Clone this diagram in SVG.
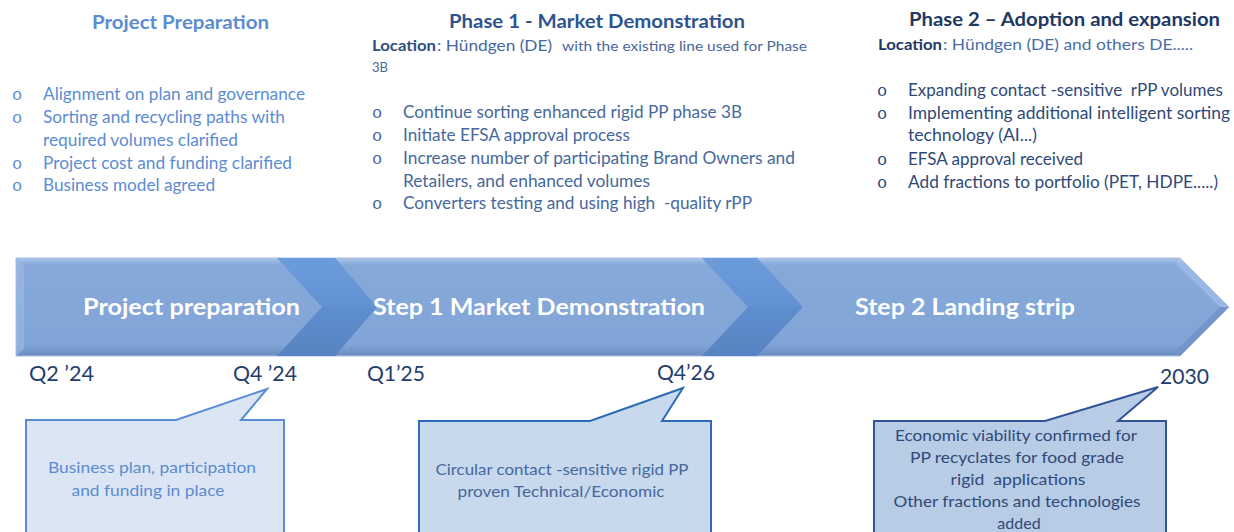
<svg xmlns="http://www.w3.org/2000/svg" width="1234" height="532" viewBox="0 0 1234 532">
  <style>
    text { font-family: Lato, "Open Sans", "Liberation Sans", sans-serif; white-space: pre; }
    .h { font-weight: bold; font-size: 19.5px; }
    .li { font-size: 16.5px; }
    .bul { font-family: "Liberation Mono", monospace; font-size: 17px; }
    .band { font-weight: bold; font-size: 22px; fill: #ffffff; }
    .date { font-size: 21px; fill: #1F3D6E; }
    .call { font-size: 16px; text-anchor: middle; }
    .blueL { fill: #5B8CD3; }
    .blueM { fill: #46689C; }
    .blueD { fill: #2F4A78; }
  </style>
  <defs>
    <linearGradient id="bandGrad" x1="0" y1="0" x2="0" y2="1">
      <stop offset="0" stop-color="#A9C4EA"/>
      <stop offset="0.07" stop-color="#86A9DA"/>
      <stop offset="0.88" stop-color="#82A5D7"/>
      <stop offset="1" stop-color="#6A8CC1"/>
    </linearGradient>
    <linearGradient id="chevGrad" x1="0" y1="0" x2="0" y2="1">
      <stop offset="0" stop-color="#6A9ADA"/>
      <stop offset="0.5" stop-color="#5E8ECF"/>
      <stop offset="1" stop-color="#5883C1"/>
    </linearGradient>
  </defs>

  <!-- phase headings and bullet lists -->
  <g id="prep-notes">
    <text class="h blueL" x="92" y="29" textLength="177" lengthAdjust="spacingAndGlyphs">Project Preparation</text>
    <g class="blueL">
      <text class="bul" x="12" y="100">o</text>
      <text class="li" x="43" y="100" textLength="262" lengthAdjust="spacingAndGlyphs">Alignment on plan and governance</text>
      <text class="bul" x="12" y="123">o</text>
      <text class="li" x="43" y="123" textLength="242" lengthAdjust="spacingAndGlyphs">Sorting and recycling paths with</text>
      <text class="li" x="43" y="146" textLength="195" lengthAdjust="spacingAndGlyphs">required volumes clarified</text>
      <text class="bul" x="12" y="169">o</text>
      <text class="li" x="43" y="169" textLength="249" lengthAdjust="spacingAndGlyphs">Project cost and funding clarified</text>
      <text class="bul" x="12" y="191">o</text>
      <text class="li" x="43" y="191" textLength="172" lengthAdjust="spacingAndGlyphs">Business model agreed</text>
    </g>
  </g>

  <g id="phase1-notes">
    <text class="h" x="449" y="28" fill="#2E5490" textLength="296" lengthAdjust="spacingAndGlyphs">Phase 1 - Market Demonstration</text>
    <text x="372" y="51" font-size="14.5" font-weight="bold" fill="#2E4F82" textLength="64" lengthAdjust="spacingAndGlyphs">Location</text>
    <text class="blueM" x="437" y="51" font-size="15" textLength="115" lengthAdjust="spacingAndGlyphs">: Hündgen (DE)</text>
    <text class="blueM" x="562" y="51" font-size="13" textLength="245" lengthAdjust="spacingAndGlyphs">with the existing line used for Phase</text>
    <text class="blueM" x="372" y="72" font-size="13">3B</text>
    <g class="blueM">
      <text class="bul" x="372" y="118">o</text>
      <text class="li" x="403" y="118" textLength="339" lengthAdjust="spacingAndGlyphs">Continue sorting enhanced rigid PP phase 3B</text>
      <text class="bul" x="372" y="141">o</text>
      <text class="li" x="403" y="141" textLength="227" lengthAdjust="spacingAndGlyphs">Initiate EFSA approval process</text>
      <text class="bul" x="372" y="164">o</text>
      <text class="li" x="403" y="164" textLength="392" lengthAdjust="spacingAndGlyphs">Increase number of participating Brand Owners and</text>
      <text class="li" x="403" y="187" textLength="247" lengthAdjust="spacingAndGlyphs">Retailers, and enhanced volumes</text>
      <text class="bul" x="372" y="209">o</text>
      <text class="li" x="403" y="209" textLength="349" lengthAdjust="spacingAndGlyphs">Converters testing and using high  -quality rPP</text>
    </g>
  </g>

  <g id="phase2-notes">
    <text class="h" x="909" y="26" fill="#1F3864" textLength="311" lengthAdjust="spacingAndGlyphs">Phase 2 – Adoption and expansion</text>
    <text x="878" y="50" font-size="14.5" font-weight="bold" fill="#1F3864" textLength="64" lengthAdjust="spacingAndGlyphs">Location</text>
    <text x="943" y="50" font-size="15" fill="#4A6FA5" textLength="250" lengthAdjust="spacingAndGlyphs">: Hündgen (DE) and others DE.....</text>
    <g class="blueD">
      <text class="bul" x="877" y="96">o</text>
      <text class="li" x="908" y="96" textLength="315" lengthAdjust="spacingAndGlyphs">Expanding contact -sensitive  rPP volumes</text>
      <text class="bul" x="877" y="119">o</text>
      <text class="li" x="908" y="119" textLength="322" lengthAdjust="spacingAndGlyphs">Implementing additional intelligent sorting</text>
      <text class="li" x="908" y="141" textLength="129" lengthAdjust="spacingAndGlyphs">technology (AI...)</text>
      <text class="bul" x="877" y="165">o</text>
      <text class="li" x="908" y="165" textLength="175" lengthAdjust="spacingAndGlyphs">EFSA approval received</text>
      <text class="bul" x="877" y="188">o</text>
      <text class="li" x="908" y="188" textLength="310" lengthAdjust="spacingAndGlyphs">Add fractions to portfolio (PET, HDPE.....)</text>
    </g>
  </g>

  <!-- timeline band with chevron joints -->
  <g id="timeline">
    <path d="M16,258 L1180,258 L1229,307 L1180,356 L16,356 Z" fill="url(#bandGrad)" stroke="#A9C0E3" stroke-width="1"/>
    <path d="M16,258 L24,265 L24,349 L16,356 Z" fill="#9AB8E3" opacity="0.7"/>
    <path d="M1180,258 L1229,307 L1220,307 L1176,264 Z" fill="#A7C3EC" opacity="0.6"/>
    <path d="M1229,307 L1180,356 L1176,350 L1220,307 Z" fill="#6F90C6" opacity="0.7"/>
  </g>
  <g id="chevron-1">
    <path d="M277,258 L335,258 L377,307 L335,356 L277,356 L322,307 Z" fill="url(#chevGrad)"/>
    <path d="M277,258 L335,258 L377,307 L322,307 Z" fill="#7AA6E0" opacity="0.2"/>
  </g>
  <g id="chevron-2">
    <path d="M702,258 L757,258 L803,307 L757,356 L702,356 L748,307 Z" fill="url(#chevGrad)"/>
    <path d="M702,258 L757,258 L803,307 L748,307 Z" fill="#7AA6E0" opacity="0.2"/>
  </g>
  <g id="band-labels">
    <text class="band" x="83" y="315" textLength="217" lengthAdjust="spacingAndGlyphs">Project preparation</text>
    <text class="band" x="373" y="315" textLength="332" lengthAdjust="spacingAndGlyphs">Step 1 Market Demonstration</text>
    <text class="band" x="855" y="315" textLength="220" lengthAdjust="spacingAndGlyphs">Step 2 Landing strip</text>
  </g>

  <!-- milestone dates -->
  <g id="dates">
    <text class="date" x="29" y="381" textLength="65" lengthAdjust="spacingAndGlyphs">Q2 ’24</text>
    <text class="date" x="233" y="381" textLength="64" lengthAdjust="spacingAndGlyphs">Q4 ’24</text>
    <text class="date" x="367" y="381" textLength="58" lengthAdjust="spacingAndGlyphs">Q1’25</text>
    <text class="date" x="657" y="380" textLength="58" lengthAdjust="spacingAndGlyphs">Q4’26</text>
    <text class="date" x="1160" y="384" textLength="49" lengthAdjust="spacingAndGlyphs">2030</text>
  </g>

  <!-- callouts -->
  <g id="callout-prep">
    <path d="M26,420 L176,420 L267,389 L241,420 L284,420 L284,540 L26,540 Z" fill="#DCE5F3" stroke="#5B8CD3" stroke-width="2" stroke-linejoin="miter"/>
    <text class="call blueL" x="152" y="473" textLength="208" lengthAdjust="spacingAndGlyphs">Business plan, participation</text>
    <text class="call blueL" x="148" y="496" textLength="153" lengthAdjust="spacingAndGlyphs">and funding in place</text>
  </g>
  <g id="callout-step1">
    <path d="M419,421 L590,421 L683,388 L662,421 L711,421 L711,540 L419,540 Z" fill="#C8D8ED" stroke="#2E6BB5" stroke-width="2"/>
    <text class="call blueM" x="562" y="475" textLength="253" lengthAdjust="spacingAndGlyphs">Circular contact -sensitive rigid PP</text>
    <text class="call blueM" x="561" y="497" textLength="207" lengthAdjust="spacingAndGlyphs">proven Technical/Economic</text>
  </g>
  <g id="callout-step2">
    <path d="M874,421 L1045,421 L1158,387 L1118,421 L1166,421 L1166,540 L874,540 Z" fill="#B8CCE6" stroke="#2F5597" stroke-width="2"/>
    <g class="blueD">
      <text class="call" x="1016" y="441" textLength="242" lengthAdjust="spacingAndGlyphs">Economic viability confirmed for</text>
      <text class="call" x="1017" y="463" textLength="214" lengthAdjust="spacingAndGlyphs">PP recyclates for food grade</text>
      <text class="call" x="1018" y="485" textLength="135" lengthAdjust="spacingAndGlyphs">rigid  applications</text>
      <text class="call" x="1017" y="507" textLength="247" lengthAdjust="spacingAndGlyphs">Other fractions and technologies</text>
      <text class="call" x="1019" y="529">added</text>
    </g>
  </g>
</svg>
